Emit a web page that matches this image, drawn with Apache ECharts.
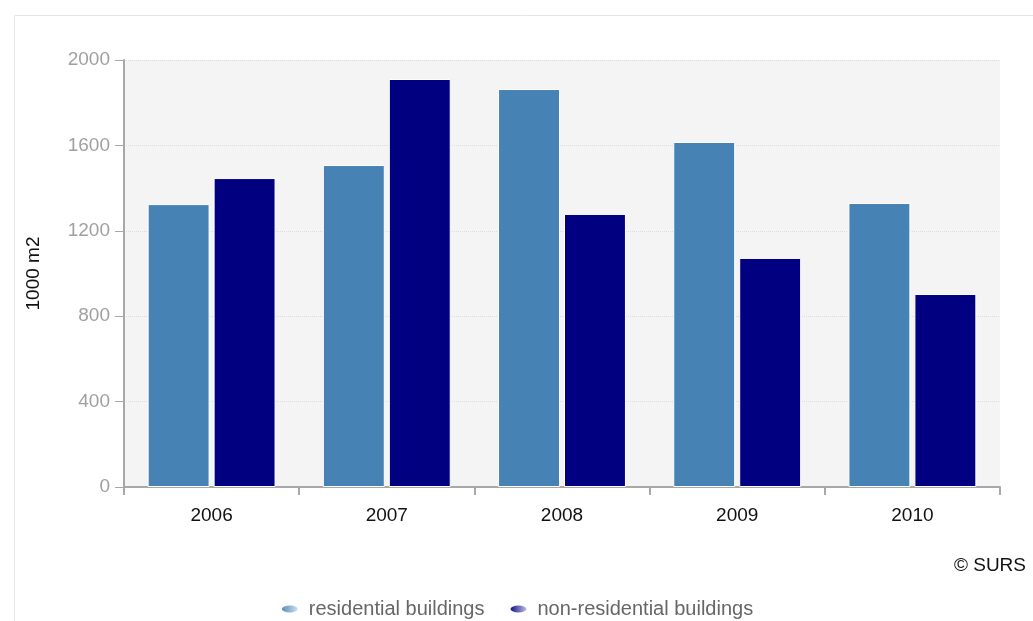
<!DOCTYPE html>
<html>
<head>
<meta charset="utf-8">
<script src="https://cdn.jsdelivr.net/npm/echarts@6/dist/echarts.min.js"></script>
<style>
html,body{margin:0;padding:0;background:#fff;}
#chart{width:1033px;height:621px;}
</style>
</head>
<body>
<div id="chart"></div>
<script>
const categories = ['2006', '2007', '2008', '2009', '2010'];
const residential = [1325, 1508, 1864, 1616, 1330];
const nonResidential = [1447, 1911, 1279, 1073, 904];
const seriesNames = ['residential buildings', 'non-residential buildings'];
const yAxisName = '1000 m2';
const sourceText = '\u00A9 SURS';

const FONT = '"Liberation Sans", Arial, sans-serif';
const chart = echarts.init(document.getElementById('chart'), null, {renderer: 'canvas'});

const ellipse = 'path://M0,5 A10,5 0 1,0 20,5 A10,5 0 1,0 0,5 Z';

chart.setOption({
  animation: false,
  backgroundColor: '#ffffff',
  textStyle: {fontFamily: FONT},
  graphic: [
    {type: 'rect', left: 12, top: 13, shape: {x: 0, y: 0, width: 1040, height: 640},
     style: {fill: 'none', stroke: '#e6e6e6', lineWidth: 1}, silent: true, z: -10},
    {type: 'text', right: 7, top: 556,
     style: {text: sourceText, fontSize: 19, fontFamily: FONT, fill: '#111'}}
  ],
  grid: {
    left: 124, right: 33, top: 60, bottom: 134,
    show: true, backgroundColor: '#f4f4f4', borderWidth: 0
  },
  legend: {
    bottom: -3, left: 'center',
    itemWidth: 18, itemHeight: 9, itemGap: 24,
    icon: ellipse,
    textStyle: {fontSize: 20, color: '#666', fontFamily: FONT, padding: [0, 0, 0, 5]},
    data: [
      {name: seriesNames[0], itemStyle: {color: new echarts.graphic.LinearGradient(0, 0, 1, 0, [{offset: 0, color: '#4682B4'}, {offset: 1, color: '#dfe9f3'}])}},
      {name: seriesNames[1], itemStyle: {color: new echarts.graphic.LinearGradient(0, 0, 1, 0, [{offset: 0, color: '#000080'}, {offset: 1, color: '#d0d0ee'}])}}
    ]
  },
  xAxis: {
    type: 'category',
    data: categories,
    axisLine: {show: true, lineStyle: {color: '#a8a8a8', width: 2}},
    axisTick: {show: true, alignWithLabel: false, length: 8, lineStyle: {color: '#a8a8a8', width: 2}},
    axisLabel: {color: '#111', fontSize: 19, margin: 19, fontFamily: FONT},
    splitLine: {show: false}
  },
  yAxis: {
    type: 'value',
    min: 0, max: 2000, interval: 400,
    name: yAxisName,
    nameLocation: 'middle',
    nameRotate: 90,
    nameGap: 81,
    nameTextStyle: {color: '#111', fontSize: 19, fontFamily: FONT},
    axisLine: {show: true, lineStyle: {color: '#a8a8a8', width: 2}},
    axisTick: {show: true, length: 9, lineStyle: {color: '#a8a8a8', width: 1}},
    axisLabel: {color: '#a0a0a0', fontSize: 19, margin: 14, fontFamily: FONT, formatter: v => String(v)},
    splitLine: {show: true, lineStyle: {color: '#dddddd', type: 'dotted', width: 1}}
  },
  series: [
    {
      name: seriesNames[0], type: 'bar', data: residential,
      barGap: '6.5%', barCategoryGap: '27%',
      itemStyle: {color: '#4682B4', borderColor: '#ffffff', borderWidth: 1}
    },
    {
      name: seriesNames[1], type: 'bar', data: nonResidential,
      itemStyle: {color: '#000080', borderColor: '#ffffff', borderWidth: 1}
    }
  ]
});
</script>
</body>
</html>
